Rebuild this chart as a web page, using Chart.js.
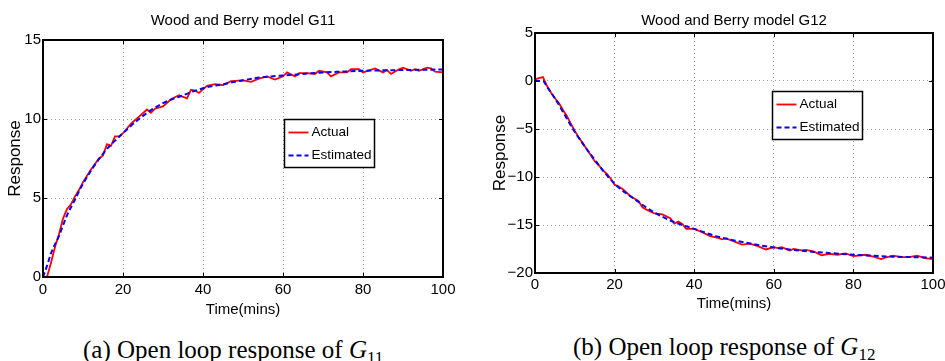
<!DOCTYPE html>
<html><head><meta charset="utf-8">
<script src="https://cdn.jsdelivr.net/npm/chart.js@4.4.0/dist/chart.umd.min.js"></script>
<style>
html,body{margin:0;padding:0;background:#fff;width:945px;height:361px;overflow:hidden;position:relative}
.wrap{position:absolute;top:0;width:470px;height:320px}
.cap{position:absolute;font-family:'Liberation Serif','Times New Roman',serif;font-size:25px;white-space:nowrap;color:#000;line-height:25px}
.cap sub{font-size:17px;vertical-align:-5px;line-height:0;font-style:normal}
</style></head><body>
<div class="wrap" style="left:0"><canvas id="c1" width="470" height="320"></canvas></div>
<div class="wrap" style="left:475px"><canvas id="c2" width="470" height="320"></canvas></div>
<div class="cap" style="left:83px;top:337px">(a) Open loop response of <i>G</i><sub>11</sub></div>
<div class="cap" style="left:573px;top:334px">(b) Open loop response of <i>G</i><sub>12</sub></div>
<script>
// ---------- data ----------
const titleG11 = 'Wood and Berry model G11';
const titleG12 = 'Wood and Berry model G12';
const seriesLabels = ['Actual', 'Estimated'];
const xAxisLabel = 'Time(mins)';
const yAxisLabel = 'Response';

const timeG11Actual = [0,1,2,3,4,5,6,7,8,9,10,12,14,15,16,17,18,19,20,22,24,26,27,28,30,32,34,35,36,37,38,39,41,43,45,47,50,52,54,56,58,60,61,63,64,66,68,69,71,72,74,76,77,79,80,83,85,86,87,89,90,92,93,94,96,97,98,100];
const actualG11 = [0,0,0.9,1.9,2.7,3.7,4.3,4.6,5.1,5.5,6.0,6.8,7.5,7.7,8.4,8.3,8.9,8.9,9.1,9.7,10.15,10.6,10.4,10.65,10.8,11.25,11.5,11.4,11.3,11.85,11.8,11.65,12.1,12.2,12.15,12.4,12.45,12.35,12.55,12.7,12.5,12.7,12.95,12.7,12.9,12.9,12.85,13.05,12.95,12.7,12.95,12.95,13.15,13.15,12.95,13.2,12.95,13.1,12.85,13.15,13.25,13.05,13.15,13.05,13.25,13.2,13.0,12.95];
const timeG11Est = [0,1,2,4,6,8,10,15,20,25,30,35,40,45,50,55,60,65,70,75,80,85,90,95,100];
const estG11 = [0,0.7,1.5,2.6,3.9,4.9,5.9,7.8,9.1,10.2,11.0,11.5,11.95,12.2,12.45,12.65,12.75,12.85,12.95,13.0,13.05,13.08,13.1,13.12,13.13];

const timeG12Actual = [0,1,2,3,4,5,6,7,8,9,10,11,12,13,14,15,16,17,18,19,20,21,22,24,26,27,28,30,32,34,35,36,37,38,40,42,44,46,47,48,50,52,54,56,58,60,61,62,64,65,67,68,70,72,74,76,78,80,83,85,87,88,90,92,94,96,98,100];
const actualG12 = [0.17,0.3,0.4,-0.5,-1.2,-1.8,-2.3,-3.0,-3.65,-4.45,-5.2,-5.9,-6.45,-7.1,-7.7,-8.35,-8.75,-9.3,-9.65,-10.15,-10.8,-11.0,-11.25,-12.0,-12.5,-13.15,-13.4,-13.8,-13.9,-14.3,-14.85,-14.65,-14.9,-15.4,-15.4,-15.75,-16.15,-16.35,-16.5,-16.4,-16.7,-17.05,-16.95,-17.2,-17.55,-17.3,-17.4,-17.3,-17.65,-17.5,-17.65,-17.6,-17.75,-18.15,-18.0,-18.1,-17.95,-18.25,-18.1,-18.3,-18.55,-18.4,-18.2,-18.35,-18.35,-18.2,-18.45,-18.55];
const timeG12Est = [0,1,2,3,5,10,15,20,25,30,35,40,45,50,55,60,65,70,75,80,85,90,95,100];
const estG12 = [0,0,0,-0.6,-1.8,-5.3,-8.2,-10.7,-12.3,-13.7,-14.7,-15.4,-16.1,-16.6,-17.0,-17.35,-17.6,-17.8,-17.95,-18.1,-18.2,-18.3,-18.35,-18.4];

// ---------- helpers ----------
const SANS = "'Liberation Sans Narrow','Arial Narrow','Liberation Sans',Arial,sans-serif";
const pts = (xs, ys) => xs.map((x, i) => ({x, y: ys[i]}));

const framePlugin = {
  id: 'frame',
  afterDraw(chart) {
    const {ctx, chartArea: a, scales} = chart;
    ctx.save();
    ctx.strokeStyle = '#000';
    ctx.lineWidth = 1;
    const tl = 4;
    scales.x.ticks.forEach(t => {
      const px = Math.round(scales.x.getPixelForValue(t.value)) + 0.5;
      ctx.beginPath();
      ctx.moveTo(px, a.bottom); ctx.lineTo(px, a.bottom - tl);
      ctx.moveTo(px, a.top); ctx.lineTo(px, a.top + tl);
      ctx.stroke();
    });
    scales.y.ticks.forEach(t => {
      const py = Math.round(scales.y.getPixelForValue(t.value)) + 0.5;
      ctx.beginPath();
      ctx.moveTo(a.left, py); ctx.lineTo(a.left + tl, py);
      ctx.moveTo(a.right, py); ctx.lineTo(a.right - tl, py);
      ctx.stroke();
    });
    ctx.lineWidth = 2;
    ctx.strokeRect(a.left, a.top, a.right - a.left, a.bottom - a.top);
    const o = chart.options.plugins.boxLegend;
    if (o) {
      const bx = Math.round(a.left + o.fx * (a.right - a.left)) + 0.5;
      const by = Math.round(a.top + o.fy * (a.bottom - a.top)) + 0.5;
      ctx.fillStyle = '#fff';
      ctx.fillRect(bx, by, o.w, o.h);
      ctx.lineWidth = 1.5;
      ctx.strokeStyle = '#000';
      ctx.strokeRect(bx, by, o.w, o.h);
      ctx.font = '13.5px ' + SANS;
      ctx.textBaseline = 'middle';
      chart.data.datasets.forEach((ds, i) => {
        const ly = by + 13 + i * 23;
        ctx.save();
        ctx.strokeStyle = ds.borderColor;
        ctx.lineWidth = ds.borderWidth;
        ctx.setLineDash(ds.borderDash || []);
        ctx.beginPath();
        ctx.moveTo(bx + 4, ly); ctx.lineTo(bx + 24, ly);
        ctx.stroke();
        ctx.restore();
        ctx.fillStyle = '#000';
        ctx.fillText(ds.label, bx + 27, ly);
      });
    }
    ctx.restore();
  }
};

function makeChart(id, title, tA, yA, tE, yE, cfg) {
  return new Chart(document.getElementById(id), {
    type: 'line',
    data: {
      datasets: [
        {label: seriesLabels[0], data: pts(tA, yA), borderColor: '#ff0000', borderWidth: 1.8, pointRadius: 0, tension: 0, order: 2},
        {label: seriesLabels[1], data: pts(tE, yE), borderColor: '#0000ff', borderWidth: 2, borderDash: [5, 3], pointRadius: 0, cubicInterpolationMode: 'monotone', order: 1}
      ]
    },
    options: {
      responsive: false, animation: false, devicePixelRatio: 1,
      layout: {padding: {left: 0, right: cfg.padRight, top: 0, bottom: cfg.padBottom}},
      plugins: {
        legend: {display: false}, tooltip: {enabled: false},
        title: {display: true, fullSize: false, text: title, color: '#000', font: {family: SANS, size: 15, weight: 'normal', lineHeight: 1.2}, padding: {top: cfg.titleTop, bottom: cfg.titleBottom}},
        boxLegend: cfg.legend
      },
      scales: {
        x: {
          type: 'linear', min: 0, max: 100,
          afterFit: s => { s.paddingLeft = 0; s.paddingRight = 0; },
          ticks: {stepSize: 20, color: '#000', font: {family: SANS, size: 15, lineHeight: 1}, padding: cfg.xTickPad, maxRotation: 0},
          grid: {color: '#9a9a9a', lineWidth: 1, drawTicks: false},
          border: {display: false, dash: [1, 3]},
          title: {display: true, text: xAxisLabel, color: '#000', font: {family: SANS, size: 15, lineHeight: 1}, padding: {top: cfg.xTitlePad, bottom: 0}}
        },
        y: {
          min: cfg.ymin, max: cfg.ymax,
          afterFit: s => { s.width = cfg.yWidth; s.paddingTop = 0; s.paddingBottom = 0; },
          ticks: {stepSize: 5, color: '#000', font: {family: SANS, size: 15, lineHeight: 1}, padding: 2,
                  callback: v => String(v).replace('-', '\u2212')},
          grid: {color: '#9a9a9a', lineWidth: 1, drawTicks: false},
          border: {display: false, dash: [1, 3]},
          title: {display: true, text: yAxisLabel, color: '#000', font: {family: "'Liberation Sans',Arial,sans-serif", size: 17, lineHeight: 1}, padding: {top: cfg.yTitlePad, bottom: 0}}
        }
      }
    },
    plugins: [framePlugin]
  });
}

makeChart('c1', titleG11, timeG11Actual, actualG11, timeG11Est, estG11, {
  padRight: 27, padBottom: 3, titleTop: 12, titleBottom: 10, xTickPad: 5, xTitlePad: 0,
  ymin: 0, ymax: 15, yWidth: 43, yTitlePad: 7,
  legend: {fx: 0.6025, fy: 0.333, w: 90, h: 48}
});
makeChart('c2', titleG12, timeG12Actual, actualG12, timeG12Est, estG12, {
  padRight: 12, padBottom: 9, titleTop: 12, titleBottom: 3, xTickPad: 4, xTitlePad: 0,
  ymin: -20, ymax: 5, yWidth: 60, yTitlePad: 17,
  legend: {fx: 0.5955, fy: 0.243, w: 90, h: 48}
});
</script>
</body></html>
